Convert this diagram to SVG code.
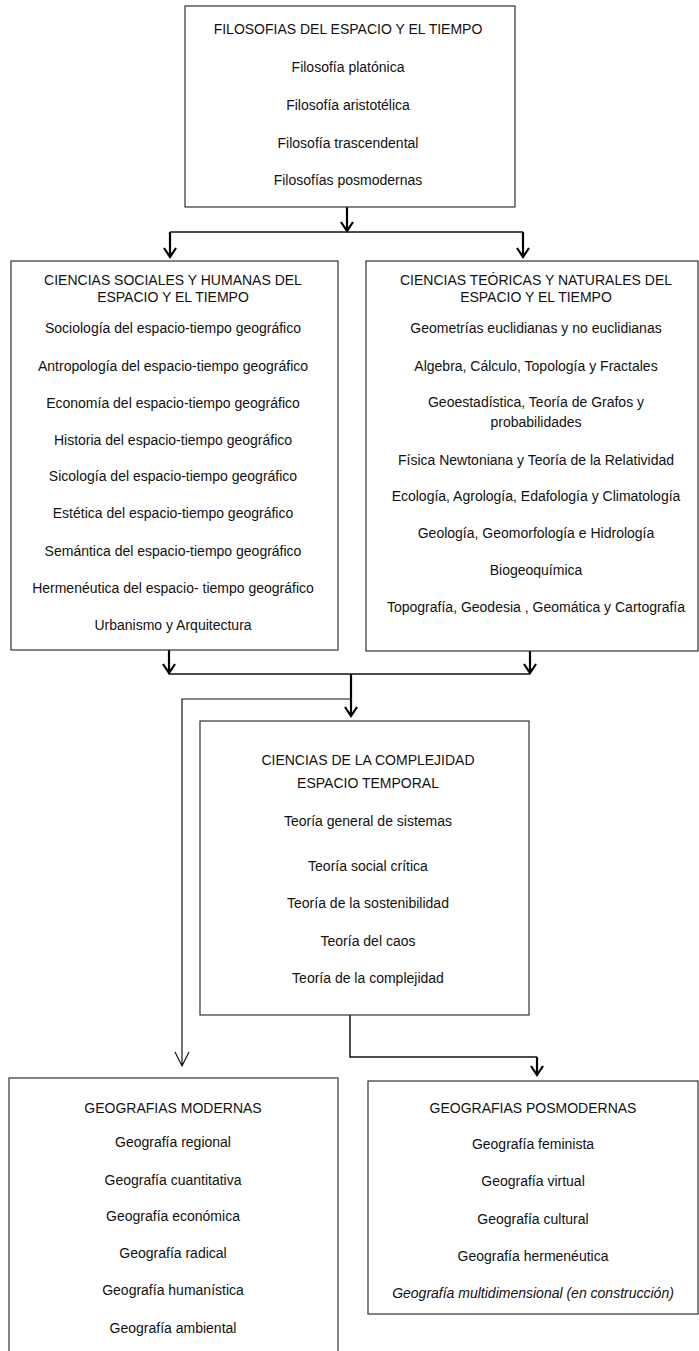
<svg xmlns="http://www.w3.org/2000/svg" width="699" height="1351" viewBox="0 0 699 1351">
<style>
.box{fill:#fff;stroke:#333;stroke-width:1.2}
.t{font-family:"Liberation Sans",Arial,sans-serif;font-size:14px;fill:#111;text-anchor:middle}
.i{font-style:italic}
.c{fill:none;stroke:#111;stroke-width:1.5}
.a{fill:none;stroke:#000;stroke-width:2.2}
.thin{fill:none;stroke:#111;stroke-width:1.2}
</style>
<rect width="699" height="1351" fill="#fff"/>
<g id="connectors">
<path class="c" d="M170,232 H523"/>
<path class="a" d="M347,207 V231 M341,222 L347,231 L353,222"/>
<path class="a" d="M170,232 V257 M164,248 L170,257 L176,248"/>
<path class="a" d="M523,232 V257 M517,248 L523,257 L529,248"/>
<path class="c" d="M169,674 H530"/>
<path class="a" d="M169,650 V673 M163,664 L169,673 L175,664"/>
<path class="a" d="M530,651 V673 M524,664 L530,673 L536,664"/>
<path class="a" d="M351,674 V716 M345,707 L351,716 L357,707"/>
<path class="thin" d="M351,699 H182 V1066 M175,1052 L182,1066 L189,1052"/>
<path class="c" d="M350,1015 V1057 H537"/>
<path class="a" d="M537,1057 V1075 M531,1066 L537,1075 L543,1066"/>
</g>
<g id="filosofias">
<rect class="box" x="185" y="6" width="330" height="201"/>
<text class="t" x="348" y="34">FILOSOFIAS DEL ESPACIO Y EL TIEMPO</text>
<text class="t" x="348" y="72">Filosofía platónica</text>
<text class="t" x="348" y="110">Filosofía aristotélica</text>
<text class="t" x="348" y="148">Filosofía trascendental</text>
<text class="t" x="348" y="185">Filosofías posmodernas</text>
</g>
<g id="ciencias-sociales">
<rect class="box" x="11" y="261" width="327" height="389"/>
<text class="t" x="173" y="285">CIENCIAS SOCIALES Y HUMANAS DEL</text>
<text class="t" x="173" y="302">ESPACIO Y EL TIEMPO</text>
<text class="t" x="173" y="333">Sociología del espacio-tiempo geográfico</text>
<text class="t" x="173" y="371">Antropología del espacio-tiempo geográfico</text>
<text class="t" x="173" y="408">Economía del espacio-tiempo geográfico</text>
<text class="t" x="173" y="445">Historia del espacio-tiempo geográfico</text>
<text class="t" x="173" y="481">Sicología del espacio-tiempo geográfico</text>
<text class="t" x="173" y="518">Estética del espacio-tiempo geográfico</text>
<text class="t" x="173" y="556">Semántica del espacio-tiempo geográfico</text>
<text class="t" x="173" y="593">Hermenéutica del espacio- tiempo geográfico</text>
<text class="t" x="173" y="630">Urbanismo y Arquitectura</text>
</g>
<g id="ciencias-teoricas">
<rect class="box" x="366" y="261" width="332" height="390"/>
<text class="t" x="536" y="285">CIENCIAS TEÓRICAS Y NATURALES DEL</text>
<text class="t" x="536" y="302">ESPACIO Y EL TIEMPO</text>
<text class="t" x="536" y="333">Geometrías euclidianas y no euclidianas</text>
<text class="t" x="536" y="371">Algebra, Cálculo, Topología y Fractales</text>
<text class="t" x="536" y="407">Geoestadística, Teoría de Grafos  y</text>
<text class="t" x="536" y="427">probabilidades</text>
<text class="t" x="536" y="465">Física Newtoniana y Teoría de la Relatividad</text>
<text class="t" x="536" y="501">Ecología, Agrología, Edafología y Climatología</text>
<text class="t" x="536" y="538">Geología, Geomorfología e Hidrología</text>
<text class="t" x="536" y="575">Biogeoquímica</text>
<text class="t" x="536" y="612">Topografía, Geodesia , Geomática y Cartografía</text>
</g>
<g id="complejidad">
<rect class="box" x="200" y="721" width="329" height="294"/>
<text class="t" x="368" y="765">CIENCIAS DE LA COMPLEJIDAD</text>
<text class="t" x="368" y="788">ESPACIO TEMPORAL</text>
<text class="t" x="368" y="826">Teoría general de sistemas</text>
<text class="t" x="368" y="871">Teoría social crítica</text>
<text class="t" x="368" y="908">Teoría de la sostenibilidad</text>
<text class="t" x="368" y="946">Teoría del caos</text>
<text class="t" x="368" y="983">Teoría de la complejidad</text>
</g>
<g id="geografias-modernas">
<rect class="box" x="9" y="1078" width="329" height="290"/>
<text class="t" x="173" y="1113">GEOGRAFIAS MODERNAS</text>
<text class="t" x="173" y="1147">Geografía regional</text>
<text class="t" x="173" y="1185">Geografía cuantitativa</text>
<text class="t" x="173" y="1221">Geografía económica</text>
<text class="t" x="173" y="1258">Geografía radical</text>
<text class="t" x="173" y="1295">Geografía humanística</text>
<text class="t" x="173" y="1333">Geografía ambiental</text>
</g>
<g id="geografias-posmodernas">
<rect class="box" x="368" y="1081" width="330" height="233"/>
<text class="t" x="533" y="1113">GEOGRAFIAS POSMODERNAS</text>
<text class="t" x="533" y="1149">Geografía feminista</text>
<text class="t" x="533" y="1186">Geografía virtual</text>
<text class="t" x="533" y="1224">Geografía cultural</text>
<text class="t" x="533" y="1261">Geografía hermenéutica</text>
<text class="t i" x="533" y="1298">Geografía multidimensional (en construcción)</text>
</g>
</svg>
